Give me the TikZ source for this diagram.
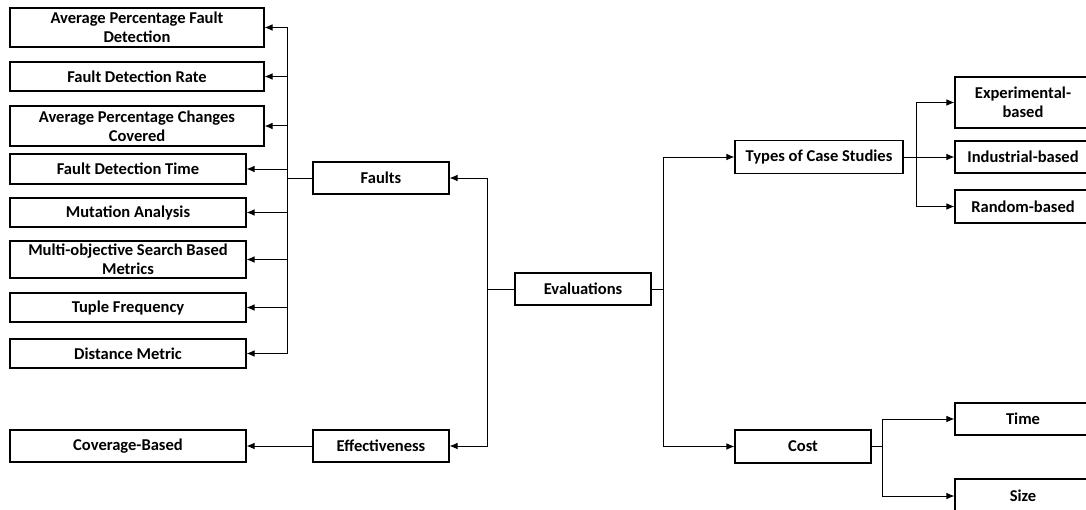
\documentclass[tikz,border=0pt]{standalone}
\usepackage{fontspec}
\setmainfont{Carlito}
\usetikzlibrary{arrows.meta}
\begin{document}
\begin{tikzpicture}[x=0.75pt,y=-0.75pt,>={Latex[length=6pt,width=5pt]},
  box/.style={draw,line width=0.8pt,align=center,font=\bfseries\fontsize{12.4}{14.6}\selectfont,inner sep=1pt},
  wide/.style={box,minimum width=190.5pt},
  mid/.style={box,minimum width=177pt},
  small/.style={box,minimum width=102pt},
  conn/.style={line width=0.75pt}]

\useasboundingbox (0,0) rectangle (1086,510);

%left metrics
\node [wide,minimum height=29.25pt] (apfd) at (137,27.5) {Average Percentage Fault\\Detection};
\node [wide,minimum height=21.75pt] (fdr) at (137,76.5) {Fault Detection Rate};
\node [wide,minimum height=30pt] (apcc) at (137,126) {Average Percentage Changes\\Covered};
\node [mid,minimum height=22.5pt] (fdt) at (128,169) {Fault Detection Time};
\node [mid,minimum height=21.75pt] (ma) at (128,212.5) {Mutation Analysis};
\node [mid,minimum height=27.75pt] (mosbm) at (128,259.5) {Multi-objective Search Based\\Metrics};
\node [mid,minimum height=21.75pt] (tf) at (128,307.5) {Tuple Frequency};
\node [mid,minimum height=21.75pt] (dm) at (128,353.5) {Distance Metric};
\node [mid,minimum height=24pt] (cov) at (128,446) {Coverage-Based};

%middle
\node [small,minimum height=24pt] (faults) at (381,178) {Faults};
\node [small,minimum height=24pt] (eff) at (381,446) {Effectiveness};
\node [small,minimum height=24pt] (eval) at (583,289) {Evaluations};

%right side
\node [box,minimum width=126pt,minimum height=24.75pt] (types) at (819,157) {Types of Case Studies};
\node [small,minimum height=24.75pt] (cost) at (803,446.5) {Cost};
\node [small,minimum height=38.25pt] (exp) at (1023,102.5) {Experimental-\\based};
\node [small,minimum height=24pt] (ind) at (1023,157) {Industrial-based};
\node [small,minimum height=24.75pt] (rand) at (1023,206.5) {Random-based};
\node [small,minimum height=24pt] (time) at (1023,419) {Time};
\node [small,minimum height=25.5pt] (size) at (1023,496) {Size};

\coordinate (ftrunk) at (287,178);
\coordinate (eleft) at (487,289);
\coordinate (eright) at (663,289);
\coordinate (ttrunk) at (916,157);
\coordinate (ctrunk) at (882,446.5);

%faults tree
\draw [conn] (faults.west) -- (ftrunk);
\draw [conn] (ftrunk |- apfd.east) -- (ftrunk |- dm.east);
\foreach \n in {apfd,fdr,apcc,fdt,ma,mosbm,tf,dm}
  \draw [conn,->] (ftrunk |- \n.east) -- (\n.east);
\draw [conn,->] (eff.west) -- (cov.east);

%evaluations
\draw [conn] (eval.west) -- (eleft);
\draw [conn,->] (eleft) |- (faults.east);
\draw [conn,->] (eleft) |- (eff.east);
\draw [conn] (eval.east) -- (eright);
\draw [conn,->] (eright) |- (types.west);
\draw [conn,->] (eright) |- (cost.west);

%case studies and cost
\draw [conn,->] (types.east) -- (ind.west);
\draw [conn,->] (ttrunk) |- (exp.west);
\draw [conn,->] (ttrunk) |- (rand.west);
\draw [conn] (cost.east) -- (ctrunk);
\draw [conn,->] (ctrunk) |- (time.west);
\draw [conn,->] (ctrunk) |- (size.west);

\end{tikzpicture}
\end{document}
